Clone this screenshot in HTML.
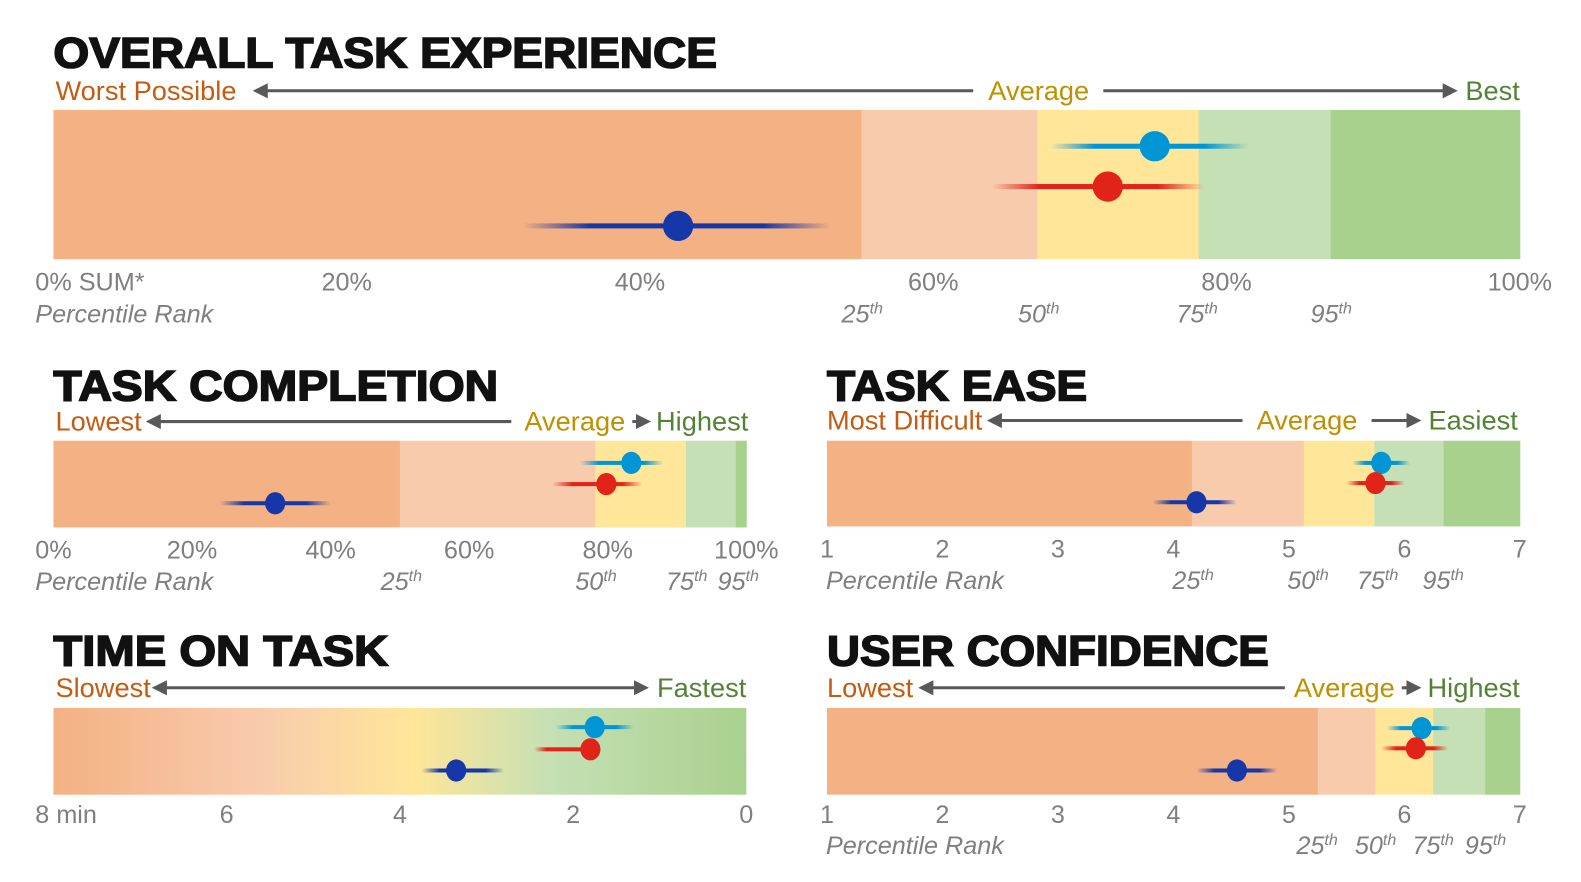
<!DOCTYPE html>
<html><head><meta charset="utf-8">
<style>
html,body{margin:0;padding:0;background:#fff;overflow:hidden;width:100%;height:100%;}
svg{display:block;position:fixed;left:0;top:0;width:100vw;height:100vh;font-family:"Liberation Sans",Arial,sans-serif;}
.title{font-weight:bold;fill:#111;stroke:#111;stroke-width:1.6px;}
.tick{fill:#7f7f7f;font-size:25px;}
.pr{fill:#7f7f7f;font-size:25px;font-style:italic;}
.orange{fill:#c55a11;font-size:27px;}
.gold{fill:#bf9000;font-size:27px;}
.green{fill:#548235;font-size:27px;}
</style></head>
<body>
<svg id="c" viewBox="0 0 1581 882" preserveAspectRatio="none">
<defs>
<linearGradient id="timeGrad" x1="0" x2="1" y1="0" y2="0">
<stop offset="0" stop-color="#f4b183"/><stop offset="0.3" stop-color="#f8cbad"/>
<stop offset="0.52" stop-color="#ffe699"/><stop offset="0.72" stop-color="#c5e0b4"/>
<stop offset="1" stop-color="#a9d18e"/></linearGradient>
<marker id="ah" viewBox="0 0 10 10" refX="5" refY="5" markerWidth="5" markerHeight="5" orient="auto-start-reverse"><path d="M0,0L10,5L0,10z" fill="#595959"/></marker>
</defs>
<g id="root" transform="scale(1.0085)"></g>
</svg>
<script>
// ---- data ----
const seriesNames = ['blue-group','red-group','navy-group'];
const seriesColors = ['#0096d6','#e2231a','#1537a8'];
// Overall (percent)
const overallBands = [55.1, 67.1, 78.1, 87.1, 100];
const overallMeans = [75.1, 71.9, 42.6];
const overallLow = [68, 64, 32];
const overallHigh = [81.5, 78.5, 53];
const overallTicks = ['0% SUM*','20%','40%','60%','80%','100%'];
// Task completion (percent)
const compBands = [50, 78.2, 91.3, 98.5, 100];
const compMeans = [83.4, 79.8, 32];
const compLow = [76, 72, 24];
const compHigh = [88, 85, 40];
const compTicks = ['0%','20%','40%','60%','80%','100%'];
// Task ease (1-7)
const easeBands = [4.16, 5.13, 5.74, 6.34, 7];
const easeMeans = [5.8, 5.75, 4.2];
const easeLow = [5.55, 5.5, 3.82];
const easeHigh = [6.05, 6.0, 4.55];
const easeTicks = ['1','2','3','4','5','6','7'];
// Time on task (minutes, axis reversed)
const timeMeans = [1.75, 1.8, 3.35];
const timeLow = [1.3, 1.8, 2.8];
const timeHigh = [2.2, 2.45, 3.75];
const timeTicks = ['8 min','6','4','2','0'];
// Confidence (1-7)
const confBands = [5.25, 5.75, 6.25, 6.7, 7];
const confMeans = [6.15, 6.1, 4.55];
const confLow = [5.85, 5.8, 4.2];
const confHigh = [6.4, 6.38, 4.9];
const confTicks = ['1','2','3','4','5','6','7'];
const bandColors = ['#f4b183','#f8cbad','#ffe699','#c5e0b4','#a9d18e'];
const pctLabels = ['25','50','75','95'];

const NS='http://www.w3.org/2000/svg', svgEl=document.getElementById('c'), root=document.getElementById('root'), defs=svgEl.querySelector('defs');
let gid=0;
function el(tag,attrs,parent){const e=document.createElementNS(NS,tag);for(const k in attrs)e.setAttribute(k,attrs[k]);(parent||root).appendChild(e);return e;}
function txt(s,x,y,cls,anchor,parent){const t=el('text',{x:x,y:y,class:cls,'text-anchor':anchor||'start'},parent);t.textContent=s;return t;}
function fadeGrad(color,leftOnly){const id='g'+(gid++);const g=el('linearGradient',{id:id,x1:0,x2:1,y1:0,y2:0},defs);
 [[0,0],[0.22,1],[0.78,1],[1,leftOnly?1:0]].forEach(s=>el('stop',{offset:s[0],'stop-color':color,'stop-opacity':s[1]},g));return id;}

function panel(o){
 const g=el('g',{});
 
 
 const sx=v=>o.x0+(v-o.vmin)/(o.vmax-o.vmin)*(o.x1-o.x0);
 const t=txt(o.title,o.x0,o.ty,'title','start',g);t.setAttribute('font-size',o.tsize);
 t.setAttribute('textLength',o.tw);t.setAttribute('lengthAdjust','spacingAndGlyphs');
 
 o.heads.forEach(h=>{const e=txt(h[0],h[1],o.hy,h[2],h[3],g);});
 o.arrows.forEach(a=>{const l=el('line',{x1:a[0],x2:a[1],y1:o.hy-9,y2:o.hy-9,stroke:'#595959','stroke-width':3},g);
  if(a[2])l.setAttribute('marker-start','url(#ah)');if(a[3])l.setAttribute('marker-end','url(#ah)');
  });
 if(o.bands){let prev=o.vmin;o.bands.forEach((b,i)=>{const r=el('rect',{x:sx(prev),y:o.y0,width:sx(b)-sx(prev)+0.5,height:o.y1-o.y0,fill:bandColors[i]},g);
  prev=b;});}
 else{const r=el('rect',{x:o.x0,y:o.y0,width:o.x1-o.x0,height:o.y1-o.y0,fill:'url(#timeGrad)'},g);}
 o.means.forEach((m,i)=>{const cy=o.rows[i];
  const a=sx(o.low[i]),b=sx(o.high[i]);const xl=Math.min(a,b),xr=Math.max(a,b);
  const leftOnly=o.leftOnly&&o.leftOnly[i];
  const id=fadeGrad(seriesColors[i],leftOnly);
  const w=(xr-xl)||1;
  const er=el('rect',{x:xl,y:cy-o.sw/2,width:w,height:o.sw,fill:'url(#'+id+')'},g);
  
  const p=el('ellipse',{cx:sx(m),cy:cy,rx:o.rx,ry:o.ry,fill:seriesColors[i]},g);
  
 });
 o.ticks.forEach((s,i)=>{const v=o.vmin+(o.vmax-o.vmin)*i/(o.ticks.length-1);let x=sx(v),anc='middle';
  if(i===0&&s.length>3){x=o.x0-18;anc='start';}
  const e=txt(s,x,o.tky,'tick',anc,g);});
 if(o.bands&&o.prx){const e=txt('Percentile Rank',o.prl,o.pry,'pr','start',g);
  o.prx.forEach((x,i)=>{const e2=el('text',{x:x,y:o.pry,class:'pr','text-anchor':'middle'},g);
   
   e2.appendChild(document.createTextNode(pctLabels[i]));const ts=el('tspan',{'font-size':16,dy:-9},e2);ts.textContent='th';});}
}
panel({name:'overall-task-experience',title:'OVERALL TASK EXPERIENCE',tsize:42,tw:658,ty:67,x0:53,x1:1507,y0:109,y1:257,vmin:0,vmax:100,
 hy:99,heads:[['Worst Possible',55,'orange'],['Average',1030,'gold','middle'],['Best',1507,'green','end']],
 arrows:[[258,965,1,0],[1094,1438,0,1]],bands:overallBands,means:overallMeans,low:overallLow,high:overallHigh,
 rows:[145,185,224],rx:15,ry:15,sw:5,ticks:overallTicks,tky:288,pry:320,prl:35,prx:[855,1030,1187,1320]});
panel({name:'task-completion',title:'TASK COMPLETION',tsize:42,tw:441,ty:397,x0:53,x1:740,y0:437,y1:523,vmin:0,vmax:100,
 hy:427,heads:[['Lowest',55,'orange'],['Average',620,'gold','end'],['Highest',742,'green','end']],
 arrows:[[152,507,1,0],[627,638,0,1]],bands:compBands,means:compMeans,low:compLow,high:compHigh,
 rows:[459,480,499],rx:10,ry:11,sw:4,ticks:compTicks,tky:554,pry:585,prl:35,prx:[398,591,681,732]});
panel({name:'task-ease',title:'TASK EASE',tsize:42,tw:258,ty:397,x0:820,x1:1507,y0:437,y1:522,vmin:1,vmax:7,
 hy:426,heads:[['Most Difficult',820,'orange'],['Average',1296,'gold','middle'],['Easiest',1505,'green','end']],
 arrows:[[986,1232,1,0],[1360,1402,0,1]],bands:easeBands,means:easeMeans,low:easeLow,high:easeHigh,
 rows:[459,479,498],rx:10,ry:11,sw:4,ticks:easeTicks,tky:553,pry:584,prl:819,prx:[1183,1297,1366,1431]});
panel({name:'time-on-task',title:'TIME ON TASK',tsize:42,tw:332,ty:660,x0:53,x1:740,y0:702,y1:788,vmin:8,vmax:0,
 hy:691,heads:[['Slowest',55,'orange'],['Fastest',740,'green','end']],
 arrows:[[158,636,1,1]],bands:null,means:timeMeans,low:timeLow,high:timeHigh,leftOnly:[0,1,0],
 rows:[721,743,764],rx:10,ry:11,sw:4,ticks:timeTicks,tky:816});
panel({name:'user-confidence',title:'USER CONFIDENCE',tsize:42,tw:438,ty:660,x0:820,x1:1507,y0:702,y1:788,vmin:1,vmax:7,
 hy:691,heads:[['Lowest',820,'orange'],['Average',1383,'gold','end'],['Highest',1507,'green','end']],
 arrows:[[918,1274,1,0],[1390,1402,0,1]],bands:confBands,means:confMeans,low:confLow,high:confHigh,
 rows:[722,742,764],rx:10,ry:11,sw:4,ticks:confTicks,tky:816,pry:847,prl:819,prx:[1306,1364,1421,1473]});
</script>
</body></html>
